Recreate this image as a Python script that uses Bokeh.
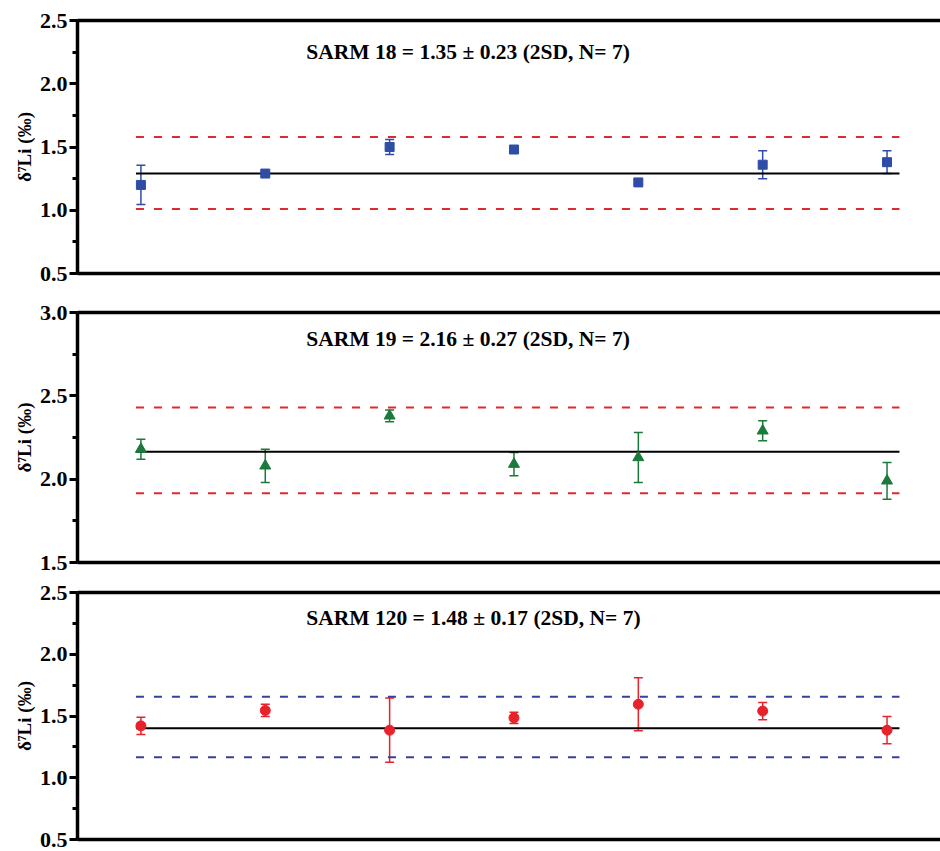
from bokeh.plotting import figure
from bokeh.layouts import column
from bokeh.models import (Range1d, SingleIntervalTicker, FixedTicker, LinearAxis, Label,
                          Whisker, TeeHead, ColumnDataSource, PrintfTickFormatter)
from bokeh.embed import file_html
from bokeh.resources import INLINE

# ---------------- data ----------------
runs = [1, 2, 3, 4, 5, 6, 7]

sarm18_vals = [1.20, 1.29, 1.50, 1.48, 1.22, 1.36, 1.38]
sarm18_err = [0.155, 0.01, 0.06, 0.01, 0.015, 0.11, 0.09]
sarm18_mean, sarm18_low, sarm18_high = 1.29, 1.01, 1.58

sarm19_vals = [2.18, 2.08, 2.38, 2.09, 2.13, 2.29, 1.99]
sarm19_err = [0.06, 0.10, 0.035, 0.07, 0.15, 0.06, 0.11]
sarm19_mean, sarm19_low, sarm19_high = 2.165, 1.915, 2.43

sarm120_vals = [1.42, 1.545, 1.385, 1.485, 1.595, 1.54, 1.385]
sarm120_err = [0.07, 0.05, 0.26, 0.045, 0.215, 0.07, 0.11]
sarm120_mean, sarm120_low, sarm120_high = 1.40, 1.165, 1.655

ref_line_x = [0.96, 7.1]

titles = ["SARM 18 = 1.35 \u00b1 0.23 (2SD, N= 7)",
          "SARM 19 = 2.16 \u00b1 0.27 (2SD, N= 7)",
          "SARM 120 = 1.48 \u00b1 0.17 (2SD, N= 7)"]
y_label = "\u03b4\u2077Li (\u2030)"

FONT = "Liberation Serif"


def make_panel(height, btop, bbot, yr, vals, errs, mean, lo, hi, marker, msize,
               color, band_color, title, title_y):
    p = figure(width=940, height=height, output_backend="svg", toolbar_location=None,
               x_range=Range1d(0.49, 7.43), y_range=Range1d(*yr),
               min_border_left=77, min_border_right=0,
               min_border_top=btop, min_border_bottom=bbot)
    p.outline_line_color = None
    p.grid.visible = False
    p.background_fill_color = "white"
    p.border_fill_color = "white"

    # frame lines top/bottom via axes without ticks
    top_ax = LinearAxis()
    p.add_layout(top_ax, "above")
    for ax in p.xaxis:
        ax.ticker = FixedTicker(ticks=[])
        ax.axis_line_width = 3.5
        ax.axis_line_color = "black"
        ax.major_tick_out = 0
        ax.major_tick_in = 0
        ax.minor_tick_out = 0
        ax.minor_tick_in = 0
        ax.major_label_standoff = 0
        ax.major_label_text_font_size = "0px"

    ya = p.yaxis[0]
    ya.ticker = SingleIntervalTicker(interval=0.5, num_minor_ticks=2)
    ya.formatter = PrintfTickFormatter(format="%.1f")
    ya.axis_line_width = 3.5
    ya.axis_line_color = "black"
    ya.major_tick_out = 8
    ya.major_tick_in = 0
    ya.major_tick_line_width = 3
    ya.minor_tick_out = 5
    ya.minor_tick_in = 0
    ya.minor_tick_line_width = 3
    ya.major_label_standoff = 2
    ya.major_label_text_font = FONT
    ya.major_label_text_font_style = "bold"
    ya.major_label_text_font_size = "22px"
    ya.major_label_text_color = "black"
    ya.axis_label = y_label
    ya.axis_label_text_font = FONT
    ya.axis_label_text_font_style = "bold"
    ya.axis_label_text_font_size = "19px"
    ya.axis_label_text_color = "black"
    ya.axis_label_standoff = 2

    # mean and 2SD lines
    p.line(ref_line_x, [mean, mean], line_color="black", line_width=2)
    p.line(ref_line_x, [hi, hi], line_color=band_color, line_width=2, line_dash="8 10")
    p.line(ref_line_x, [lo, lo], line_color=band_color, line_width=2, line_dash="8 10")

    src = ColumnDataSource(dict(x=runs, y=vals,
                                upper=[v + e for v, e in zip(vals, errs)],
                                lower=[v - e for v, e in zip(vals, errs)]))
    w = Whisker(base="x", upper="upper", lower="lower", source=src,
                line_color=color, line_width=1.5, level="underlay",
                upper_head=TeeHead(size=9, line_color=color, line_width=1.5),
                lower_head=TeeHead(size=9, line_color=color, line_width=1.5))
    p.add_layout(w)
    p.scatter("x", "y", source=src, marker=marker, size=msize,
              fill_color=color, line_color=color)

    p.add_layout(Label(x=2.33, y=title_y, text=title, text_font=FONT,
                       text_font_style="bold", text_font_size="21.5px",
                       text_color="black", text_align="left",
                       text_baseline="alphabetic"))
    return p


p1 = make_panel(292, 20, 19, (0.5, 2.5), sarm18_vals, sarm18_err, sarm18_mean,
                sarm18_low, sarm18_high, "square", 9, "#2F4DA6", "#DD2A2E",
                titles[0], 2.25)
p2 = make_panel(285, 20, 15, (1.5, 3.0), sarm19_vals, sarm19_err, sarm19_mean,
                sarm19_low, sarm19_high, "triangle", 11, "#1B7A3B", "#DD2A2E",
                titles[1], 2.84)
p3 = make_panel(274, 15, 12, (0.5, 2.5), sarm120_vals, sarm120_err, sarm120_mean,
                sarm120_low, sarm120_high, "circle", 10, "#E8222A", "#34409A",
                titles[2], 2.29)

layout = column(p1, p2, p3, spacing=0)
open("out.html", "w").write(file_html(layout, INLINE))
